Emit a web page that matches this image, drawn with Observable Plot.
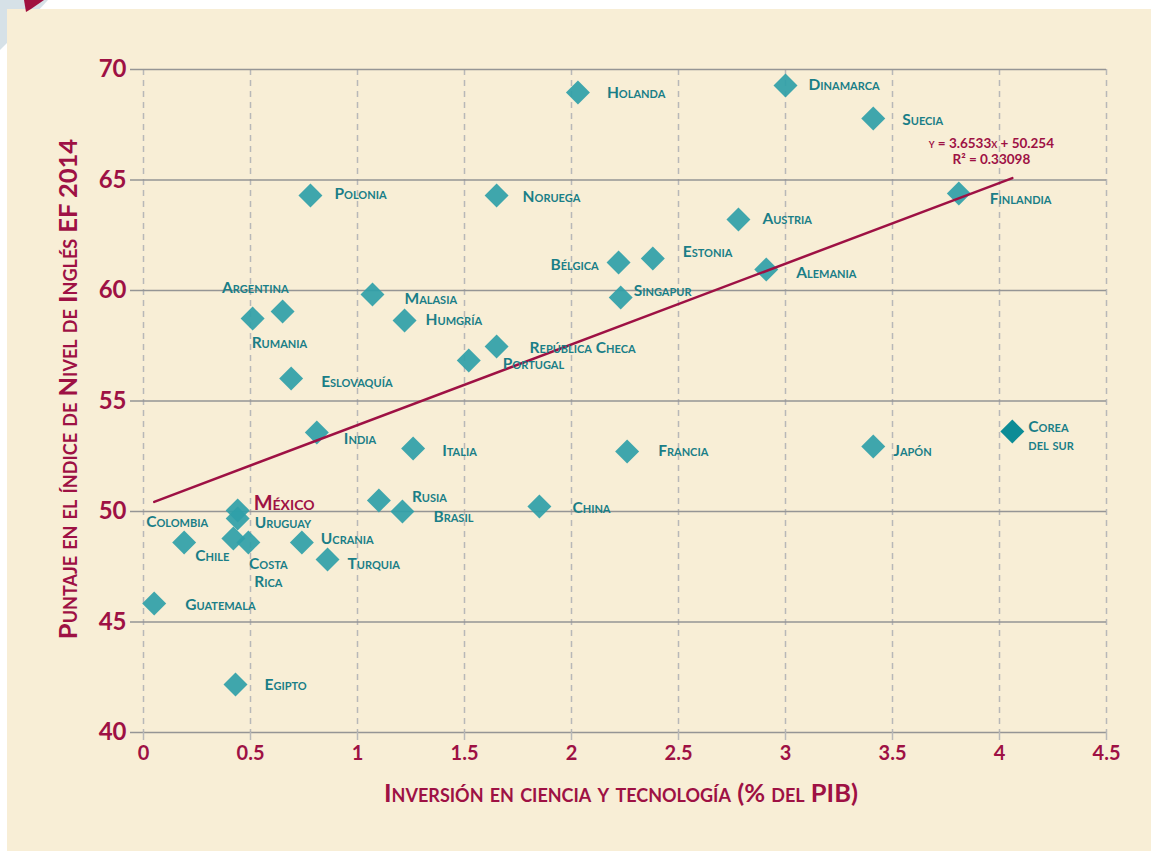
<!DOCTYPE html>
<html><head><meta charset="utf-8">
<script src="https://cdn.jsdelivr.net/npm/d3@7"></script>
<script src="https://cdn.jsdelivr.net/npm/@observablehq/plot@0.6"></script>
<style>
html,body{margin:0;padding:0;background:#fff;}
#wrap{position:relative;width:1151px;height:851px;overflow:hidden;}
#deco{position:absolute;left:0;top:0;}
#panel{position:absolute;left:7px;top:9px;right:0;bottom:0;background:#F8EED6;}
#chart{position:absolute;left:0;top:0;}
</style></head><body>
<div id="wrap">
<svg id="deco" width="80" height="60"><polygon points="0,0 48,0 22,28 0,50" fill="#D6E1E7"/></svg>
<div id="panel"></div>
<svg id="deco2" style="position:absolute;left:0;top:0" width="80" height="20"><polygon points="24,0 44,0 31,9 26,12" fill="#A0103F"/></svg>
<div id="chart"></div>
</div>
<script>
// ---- data ----
const countries = ["Holanda","Dinamarca","Suecia","Finlandia","Polonia","Noruega","Austria","Bélgica","Estonia","Alemania","Singapur","Argentina","Rumania","Malasia","Humgría","República Checa","Portugal","Eslovaquía","India","Italia","Francia","Japón","Corea\ndel sur","México","Uruguay","Colombia","Chile","Costa\nRica","Guatemala","Egipto","Rusia","Brasil","China","Ucrania","Turquia"];
const inversion = [2.03,3.00,3.41,3.81,0.78,1.65,2.78,2.22,2.38,2.91,2.23,0.65,0.51,1.07,1.22,1.65,1.52,0.69,0.81,1.26,2.26,3.41,4.06,0.44,0.44,0.19,0.42,0.49,0.05,0.43,1.10,1.21,1.85,0.74,0.86];
const puntaje = [68.96,69.28,67.78,64.39,64.30,64.30,63.21,61.27,61.45,60.95,59.68,59.05,58.73,59.82,58.64,57.47,56.83,56.02,53.57,52.85,52.71,52.94,53.62,50.05,49.68,48.60,48.78,48.60,45.84,42.17,50.50,50.00,50.23,48.60,47.83];
const xTicks = [0,0.5,1,1.5,2,2.5,3,3.5,4,4.5];
const yTicks = [40,45,50,55,60,65,70];
const slope = 3.6533, intercept = 50.254, r2 = 0.33098;
const xTitle = "Inversión en ciencia y tecnología (% del PIB)";
const yTitle = "Puntaje en el índice de Nivel de Inglés EF 2014";

// ---- label placement (style, not data) ----
const labelPlacement = {
  "Holanda":[29,0,"start"],"Dinamarca":[23,-1,"start"],"Suecia":[29,1,"start"],"Finlandia":[31,5,"start"],
  "Polonia":[24,-2,"start"],"Noruega":[26,1,"start"],"Austria":[24,-1,"start"],"Bélgica":[-20,2,"end"],
  "Estonia":[30,-7,"start"],"Alemania":[30,3,"start"],"Singapur":[13,-7,"start"],"Argentina":[6,-24,"end"],
  "Rumania":[-1,24,"start"],"Malasia":[32,4,"start"],"Humgría":[21,-1,"start"],"República Checa":[33,1,"start"],
  "Portugal":[34,3,"start"],"Eslovaquía":[30,3,"start"],"India":[27,6,"start"],"Italia":[29,2,"start"],
  "Francia":[31,-1,"start"],"Japón":[20,4,"start"],"Corea\ndel sur":[16,4,"start"],"México":[16,-8,"start"],
  "Uruguay":[17,4,"start"],"Colombia":[-7,-21,"middle"],"Chile":[-4,17,"end"],"Costa\nRica":[20,30,"middle"],
  "Guatemala":[31,1,"start"],"Egipto":[29,0,"start"],"Rusia":[33,-4,"start"],"Brasil":[31,5,"start"],
  "China":[33,1,"start"],"Ucrania":[19,-4,"start"],"Turquia":[20,4,"start"]
};

const rows = countries.map((name,i)=>({name, x: inversion[i], y: puntaje[i]}));
const xmin = d3.min(inversion), xmax = d3.max(inversion);
const trend = [xmin, xmax].map(x => ({x, y: slope*x + intercept}));

const crimson = "#9E1144";
const teal = "#2FA0A8";
const tealDark = "#0C8C96";
const tealText = "#1A7E87";
const font = "Lato, 'Open Sans', sans-serif";

const labelMarks = rows.map(r => {
  const [dx, dy, anchor] = labelPlacement[r.name];
  const isMx = r.name === "México";
  return Plot.text([r], {x:"x", y:"y", text:"name", dx, dy, textAnchor: anchor,
    fill: isMx ? crimson : tealText, fontSize: isMx ? 20 : 15.5, fontWeight: "bold",
    fontVariant: "small-caps", fontFamily: font, lineHeight: 1.12});
});

const chart = Plot.plot({
  width: 1151, height: 851,
  marginLeft: 143, marginRight: 45, marginTop: 69, marginBottom: 119,
  style: {background: "transparent", color: crimson, fontFamily: font},
  x: {domain: [0, 4.5]},
  y: {domain: [40, 70]},
  marks: [
    Plot.gridX({ticks: xTicks, stroke: "#B8B8B8", strokeOpacity: 1, strokeWidth: 1.5, strokeDasharray: "6,5"}),
    Plot.gridY({ticks: yTicks, stroke: "#959595", strokeOpacity: 1, strokeWidth: 1.5}),
    Plot.axisY({ticks: yTicks, tickSize: 13, stroke: "#959595", strokeWidth: 1.5, tickPadding: 4,
      fontSize: 24, fontWeight: "bold", fill: crimson, label: null}),
    Plot.axisX({ticks: xTicks, tickSize: 8, stroke: "#B8B8B8", strokeWidth: 1.5, tickPadding: 5,
      tickFormat: d => String(d), fontSize: 20, fontWeight: "bold", fill: crimson, label: null}),
    Plot.dot(rows.filter(r => !r.name.startsWith("Corea")), {x:"x", y:"y", symbol:"diamond2", r:10.8, fill: teal, fillOpacity: 0.92}),
    Plot.dot(rows.filter(r => r.name.startsWith("Corea")), {x:"x", y:"y", symbol:"diamond2", r:10.8, fill: tealDark}),
    Plot.line(trend, {x:"x", y:"y", stroke: crimson, strokeWidth: 2.5}),
    Plot.text([trend[1]], {x:"x", y:"y", text: () => `y = ${slope}x + ${intercept}\nR² = ${r2}`,
      dx: -21, dy: -27, fill: crimson, fontSize: 13.5, fontWeight: "bold", fontVariant: "small-caps", lineHeight: 1.15}),
    ...labelMarks,
    Plot.text([yTitle], {frameAnchor: "left", text: d => d, rotate: -90, dx: -75, dy: -12, textAnchor: "middle",
      fill: crimson, fontSize: 25.5, fontWeight: "bold", fontVariant: "small-caps"}),
    Plot.text([xTitle], {frameAnchor: "bottom", text: d => d, dy: 69, dx: -4, textAnchor: "middle", fill: crimson,
      fontSize: 25.5, fontWeight: "bold", fontVariant: "small-caps"})
  ]
});
document.getElementById("chart").appendChild(chart);
</script>
</body></html>
